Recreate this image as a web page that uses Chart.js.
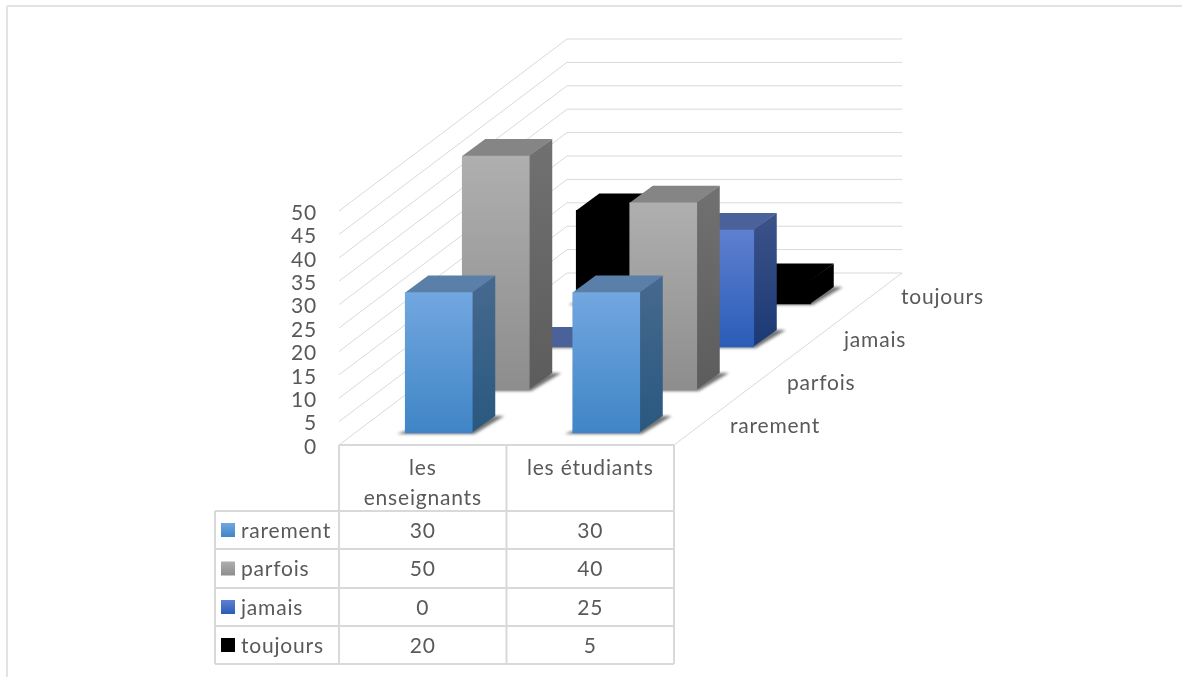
<!DOCTYPE html>
<html>
<head>
<meta charset="utf-8">
<title>rarement parfois jamais toujours</title>
<script src="https://cdn.jsdelivr.net/npm/chart.js@4/dist/chart.umd.min.js"></script>
<style>
  html, body { margin: 0; padding: 0; background: #fff; }
  canvas { display: block; }
</style>
</head>
<body>
<canvas id="chartContainer1" width="1182" height="677"></canvas>
<script>
var categories = [["les", "enseignants"], "les étudiants"];
var seriesNames = ["rarement", "parfois", "jamais", "toujours"];
var rarement = [30, 30];
var parfois = [50, 40];
var jamais = [0, 25];
var toujours = [20, 5];
var seriesValues = [rarement, parfois, jamais, toujours];

// front top, front bottom, side top, side bottom, top face
var seriesColors = [
  ["#72a7e0", "#3f85c6", "#47698f", "#29587f", "#5a7fa8"],
  ["#afafaf", "#8d8d8d", "#717171", "#5c5c5c", "#858585"],
  ["#5e80d0", "#2a5cb8", "#3c5389", "#1b3974", "#4a6199"],
  ["#000000", "#000000", "#000000", "#000000", "#000000"]
];

var textColor = "#595959";
var lineColor = "#d9d9d9";
var fontName = "Lato, 'Open Sans', sans-serif";
var fontSize = 21;

// one step back along the floor, and how deep a bar is
var stepX = 57, stepY = 43;
var firstX = 16, firstY = 12;
var barDepthX = 23, barDepthY = 17;

var rowLines = [511, 549, 588, 626, 664];
var tableLeft = 215;

function frontGradient(context) {
  var c = seriesColors[context.datasetIndex];
  var y = context.chart.scales.y;
  var top = y.getPixelForValue(context.raw);
  var bottom = y.getPixelForValue(0);
  if (!isFinite(top) || !isFinite(bottom) || top === bottom) return c[4];
  var g = context.chart.ctx.createLinearGradient(0, top, 0, bottom);
  g.addColorStop(0, c[0]);
  g.addColorStop(1, c[1]);
  return g;
}

function poly(ctx, pts, fill) {
  ctx.beginPath();
  ctx.moveTo(pts[0][0], pts[0][1]);
  for (var i = 1; i < pts.length; i++) ctx.lineTo(pts[i][0], pts[i][1]);
  ctx.closePath();
  ctx.fillStyle = fill;
  ctx.fill();
}

function line(ctx, x1, y1, x2, y2) {
  ctx.beginPath();
  ctx.moveTo(x1, y1);
  ctx.lineTo(x2, y2);
  ctx.stroke();
}

var bars3d = {
  id: "bars3d",
  afterLayout: function(chart) {
    // Lato sits a little high on the middle baseline, nudge the value labels down
    var y = chart.scales.y;
    if (y.nudged) return;
    y.nudged = true;
    var drawLabels = y.drawLabels;
    y.drawLabels = function(area) {
      chart.ctx.save();
      chart.ctx.translate(0, 2);
      drawLabels.call(this, area);
      chart.ctx.restore();
    };
  },
  beforeDraw: function(chart) {
    var ctx = chart.ctx;
    ctx.letterSpacing = "0.8px";
    ctx.save();
    ctx.strokeStyle = "#e3e3e3";
    ctx.lineWidth = 2;
    line(ctx, 7, 6, 1182, 6);
    line(ctx, 7, 6, 7, 677);
    ctx.restore();
  },
  beforeDatasetsDraw: function(chart) {
    // walls and floor
    var ctx = chart.ctx;
    var x = chart.scales.x, y = chart.scales.y;
    var depthX = stepX * seriesNames.length, depthY = stepY * seriesNames.length;
    ctx.save();
    ctx.strokeStyle = lineColor;
    ctx.lineWidth = 1;
    y.ticks.forEach(function(t, i) {
      var py = y.getPixelForTick(i);
      line(ctx, x.left, py, x.left + depthX, py - depthY);
      line(ctx, x.left + depthX, py - depthY, x.right + depthX, py - depthY);
    });
    line(ctx, x.right, y.bottom, x.right + depthX, y.bottom - depthY);
    ctx.restore();
  },
  beforeDatasetDraw: function(chart, args) {
    var ctx = chart.ctx;
    var c = seriesColors[args.index];
    ctx.save();
    ctx.translate(firstX + stepX * args.index, -(firstY + stepY * args.index));
    args.meta.data.forEach(function(bar) {
      var x0 = bar.x - bar.width / 2, x1 = bar.x + bar.width / 2;
      var top = bar.y, base = bar.base;
      // floor shadow
      ctx.save();
      ctx.filter = "blur(1.5px)";
      poly(ctx, [[x0 - 8, base + 1], [x0, base - 2], [x1 + barDepthX, base - barDepthY],
                 [x1 + barDepthX + 9, base - barDepthY], [x1 + 2, base + 1]], "rgba(0,0,0,0.55)");
      ctx.restore();
      // side, tucked a pixel under the front face so no seam shows
      var g = ctx.createLinearGradient(0, top - barDepthY, 0, base);
      g.addColorStop(0, c[2]);
      g.addColorStop(1, c[3]);
      poly(ctx, [[x1 - 1, top], [x1 + barDepthX, top - barDepthY], [x1 + barDepthX, base - barDepthY], [x1 - 1, base]], g);
      // top face
      poly(ctx, [[x0, top + 1], [x0, top], [x0 + barDepthX, top - barDepthY], [x1 + barDepthX, top - barDepthY], [x1, top], [x1, top + 1]], c[4]);
    });
  },
  afterDatasetDraw: function(chart) {
    chart.ctx.restore();
  },
  afterDraw: function(chart) {
    var ctx = chart.ctx;
    var x = chart.scales.x, y = chart.scales.y;
    var colEdges = [x.left, (x.left + x.right) / 2, x.right];
    ctx.save();
    ctx.strokeStyle = lineColor;
    ctx.lineWidth = 2;
    line(ctx, x.left, y.bottom, x.right, y.bottom);
    colEdges.forEach(function(cx) { line(ctx, cx, y.bottom, cx, rowLines[rowLines.length - 1]); });
    rowLines.forEach(function(ry) { line(ctx, tableLeft, ry, x.right, ry); });
    line(ctx, tableLeft, rowLines[0], tableLeft, rowLines[rowLines.length - 1]);

    ctx.font = fontSize + "px " + fontName;
    ctx.fillStyle = textColor;
    ctx.textBaseline = "middle";
    seriesNames.forEach(function(name, i) {
      var my = (rowLines[i] + rowLines[i + 1]) / 2;
      // table row
      var g = ctx.createLinearGradient(0, my - 7, 0, my + 7);
      g.addColorStop(0, seriesColors[i][0]);
      g.addColorStop(1, seriesColors[i][1]);
      ctx.fillStyle = g;
      ctx.fillRect(tableLeft + 6, my - 7, 14, 14);
      ctx.fillStyle = textColor;
      ctx.textAlign = "left";
      ctx.fillText(name, tableLeft + 26, my + 1);
      ctx.textAlign = "center";
      seriesValues[i].forEach(function(v, k) {
        ctx.fillText(String(v), x.getPixelForValue(k), my + 1);
      });
      // depth label on the right of the floor
      ctx.textAlign = "left";
      ctx.fillText(name, x.right + 56 + stepX * i, y.bottom - 19 - stepY * i);
    });
    ctx.restore();
  }
};

var ctx1 = document.getElementById("chartContainer1").getContext("2d");

var data = [];
for (var i = 0; i < seriesNames.length; i++) {
  data.push({
    label: seriesNames[i],
    data: seriesValues[i],
    backgroundColor: frontGradient,
    barThickness: 67,
    minBarLength: 3,
    grouped: false,
    clip: false
  });
}

var myChart = new Chart(ctx1, {
  type: "bar",
  data: { labels: categories, datasets: data },
  plugins: [bars3d],
  options: {
    responsive: false,
    animation: false,
    layout: { padding: { left: 0, right: 508, top: 211, bottom: 0 } },
    plugins: { legend: { display: false }, tooltip: { enabled: false } },
    scales: {
      x: {
        grid: { display: false, drawTicks: false },
        border: { display: false },
        afterFit: function(s) { s.height = 232; },
        ticks: {
          color: textColor,
          padding: 8,
          autoSkip: false,
          maxRotation: 0,
          font: { family: fontName, size: fontSize, lineHeight: 1.45 }
        }
      },
      y: {
        min: 0,
        max: 50,
        grid: { display: false, drawTicks: false },
        border: { display: false },
        afterFit: function(s) { s.width = 339; },
        ticks: {
          stepSize: 5,
          autoSkip: false,
          color: textColor,
          padding: 22,
          font: { family: fontName, size: fontSize }
        }
      }
    }
  }
});
</script>
</body>
</html>
